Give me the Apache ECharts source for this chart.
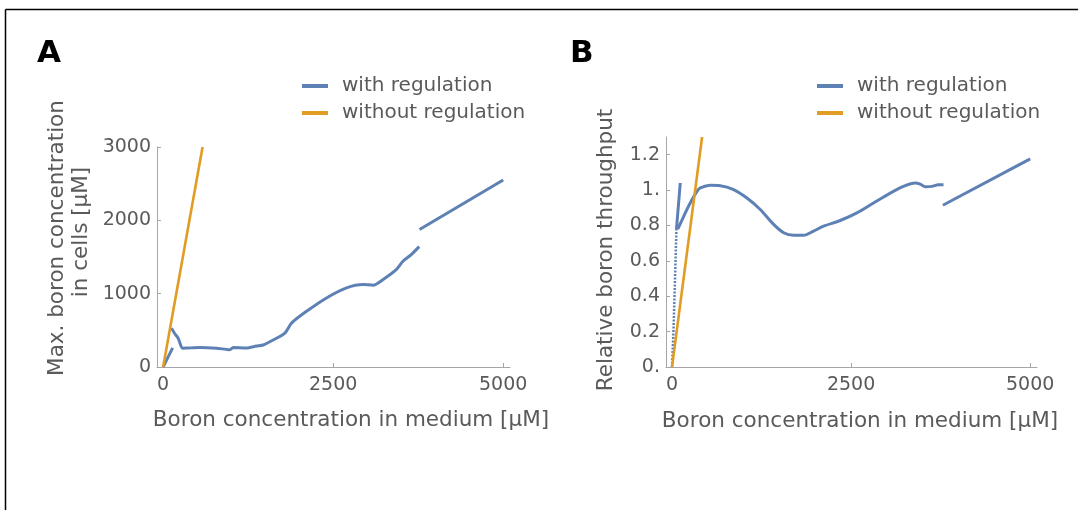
<!DOCTYPE html>
<html>
<head>
<meta charset="utf-8">
<script src="https://cdn.jsdelivr.net/npm/echarts@6/dist/echarts.min.js"></script>
<style>
html,body{margin:0;padding:0;background:#fff;}
#chart{width:1078px;height:510px;}
</style>
</head>
<body>
<div id="chart"></div>
<script>
// ---------- data ----------
var seriesNames = ['with regulation', 'without regulation'];
var xTicks = [0, 2500, 5000];
var yTicksA = [0, 1000, 2000, 3000];
var yTicksB = [0, 0.2, 0.4, 0.6, 0.8, 1.0, 1.2];

// Panel A: max. boron concentration in cells [µM]
var A_with_seg1 = [[0, 0], [60, 110], [140, 260]];
var A_with_seg2 = [[123, 530], [172, 453], [221, 393], [285, 256], [344, 258], [540, 266], [785, 256], [981, 236], [1030, 266], [1226, 260], [1373, 286], [1471, 300], [1618, 368], [1790, 462], [1888, 599], [2108, 759], [2402, 942], [2696, 1079], [2941, 1125], [3088, 1116], [3235, 1193], [3431, 1330], [3529, 1445], [3652, 1536], [3765, 1641]];
var A_with_seg3 = [[3770, 1875], [5000, 2550]];
var A_without = [[0, 0], [580, 3000]];

// Panel B: relative boron throughput
var B_with_steep = [[0, 0], [20, 0.2], [42, 0.5], [62, 0.78]];
var B_with_seg1 = [[62, 0.78], [115, 1.04]];
var B_with_seg2 = [[80, 0.78], [139, 0.83], [232, 0.91], [348, 0.993], [395, 1.012], [534, 1.027], [674, 1.025], [860, 1.003], [1046, 0.955], [1232, 0.89], [1418, 0.806], [1558, 0.759], [1697, 0.745], [1837, 0.745], [1976, 0.768], [2116, 0.796], [2348, 0.828], [2581, 0.871], [2813, 0.927], [3046, 0.983], [3232, 1.021], [3395, 1.040], [3464, 1.034], [3534, 1.019], [3627, 1.021], [3720, 1.030], [3790, 1.030]];
var B_with_seg3 = [[3781, 0.914], [5000, 1.176]];
var B_without = [[0, 0], [420, 1.3]];

// ---------- styles ----------
var BLUE = '#5e81b5';
var ORANGE = '#e19c24';
var AXIS = '#a6a6a6';
var LABEL = '#5a5a5a';
var FONT = 'DejaVu Sans';

function xAxisCfg(gi, min, max) {
  return {
    type: 'value', gridIndex: gi, min: min, max: max,
    splitLine: {show: false},
    axisLine: {onZero: false, lineStyle: {color: AXIS, width: 1}},
    axisTick: {show: true, inside: true, length: 4, lineStyle: {color: AXIS}, customValues: xTicks},
    axisLabel: {customValues: xTicks, color: LABEL, fontFamily: FONT, fontSize: 19, margin: 9,
                formatter: function (v) { return String(v); }}
  };
}
function yAxisCfg(gi, min, max, ticks, fmt) {
  return {
    type: 'value', gridIndex: gi, min: min, max: max,
    splitLine: {show: false},
    axisLine: {onZero: false, lineStyle: {color: AXIS, width: 1}},
    axisTick: {show: true, inside: true, length: 4, lineStyle: {color: AXIS}, customValues: ticks},
    axisLabel: {customValues: ticks, color: LABEL, fontFamily: FONT, fontSize: 19, margin: 6, formatter: fmt}
  };
}
function line(name, xi, data, color, extra) {
  var s = {
    type: 'line', name: name, xAxisIndex: xi, yAxisIndex: xi, data: data,
    showSymbol: false, symbol: 'none', color: color, clip: true,
    lineStyle: {color: color, width: 3}, z: 3
  };
  for (var k in extra) s[k] = extra[k];
  return s;
}
function fmtB(v) {
  var r = Math.round(v * 10) / 10;
  if (Math.abs(r - Math.round(r)) < 1e-9) return Math.round(r) + '.';
  return r.toFixed(1);
}

var chart = echarts.init(document.getElementById('chart'), null, {renderer: 'canvas'});
var legendCfg = function (left) {
  return {data: seriesNames, orient: 'vertical', left: left, top: 71, icon: 'rect', itemWidth: 26, itemHeight: 4, itemGap: 7,
          textStyle: {color: LABEL, fontFamily: FONT, fontSize: 20, padding: [0, 0, 0, 9]}};
};
var option = {
  animation: false,
  backgroundColor: '#ffffff',
  grid: [
    {left: 157, right: 568, top: 147, bottom: 143},
    {left: 666, right: 41, top: 137, bottom: 143}
  ],
  xAxis: [xAxisCfg(0, -90, 5100), xAxisCfg(1, -84, 5095)],
  yAxis: [
    yAxisCfg(0, 0, 3000, yTicksA, function (v) { return String(v); }),
    yAxisCfg(1, 0, 1.3, yTicksB, fmtB)
  ],
  legend: [legendCfg(297), legendCfg(812)],
  series: [
    line(seriesNames[0], 0, A_with_seg2, BLUE, {smooth: 0.25}),
    line(seriesNames[0], 0, A_with_seg1, BLUE, {}),
    line(seriesNames[0], 0, A_with_seg3, BLUE, {}),
    line(seriesNames[1], 0, A_without, ORANGE, {lineStyle: {color: ORANGE, width: 2.6}, z: 4}),
    line(seriesNames[0], 1, B_with_seg2, BLUE, {smooth: 0.3}),
    line(seriesNames[0], 1, B_with_seg1, BLUE, {}),
    line(seriesNames[0], 1, B_with_steep, BLUE, {lineStyle: {color: BLUE, width: 2.5, type: [2, 1.5]}}),
    line(seriesNames[0], 1, B_with_seg3, BLUE, {}),
    line(seriesNames[1], 1, B_without, ORANGE, {lineStyle: {color: ORANGE, width: 2.6}, z: 4})
  ],
  graphic: [
    {type: 'line', shape: {x1: 5.5, y1: 9.5, x2: 1078, y2: 9.5}, style: {stroke: '#000', lineWidth: 1.5}},
    {type: 'line', shape: {x1: 5.5, y1: 9.5, x2: 5.5, y2: 510}, style: {stroke: '#000', lineWidth: 1.5}},
    {type: 'text', left: 37, top: 38, style: {text: 'A', fill: '#000', font: 'bold 31px "DejaVu Sans"'}},
    {type: 'text', left: 570, top: 38, style: {text: 'B', fill: '#000', font: 'bold 31px "DejaVu Sans"'}},
    {type: 'text', x: 57, y: 238, rotation: Math.PI / 2,
     style: {text: 'Max. boron concentration', fill: LABEL, font: '21.5px "DejaVu Sans"', align: 'center', verticalAlign: 'middle'}},
    {type: 'text', x: 81, y: 232, rotation: Math.PI / 2,
     style: {text: 'in cells [μM]', fill: LABEL, font: '21.5px "DejaVu Sans"', align: 'center', verticalAlign: 'middle'}},
    {type: 'text', x: 351, y: 420,
     style: {text: 'Boron concentration in medium [μM]', fill: LABEL, font: '21.5px "DejaVu Sans"', align: 'center', verticalAlign: 'middle'}},
    {type: 'text', x: 606, y: 250, rotation: Math.PI / 2,
     style: {text: 'Relative boron throughput', fill: LABEL, font: '21.5px "DejaVu Sans"', align: 'center', verticalAlign: 'middle'}},
    {type: 'text', x: 860, y: 421,
     style: {text: 'Boron concentration in medium [μM]', fill: LABEL, font: '21.5px "DejaVu Sans"', align: 'center', verticalAlign: 'middle'}}
  ]
};
chart.setOption(option);
</script>
</body>
</html>
